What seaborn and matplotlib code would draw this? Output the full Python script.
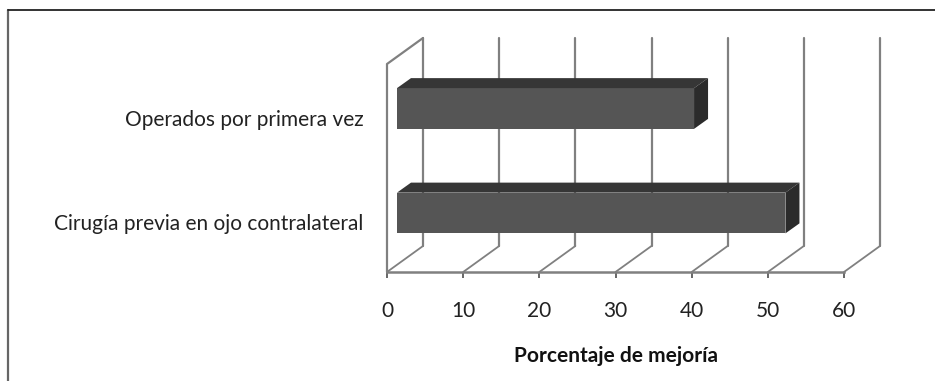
import matplotlib
matplotlib.use("Agg")
import matplotlib.pyplot as plt
from matplotlib.lines import Line2D
from matplotlib.patches import Polygon
from matplotlib.transforms import Affine2D
import pandas as pd
import seaborn as sns

categories = ["Operados por primera vez", "Cirugía previa en ojo contralateral"]
values = [39, 51]
x_ticks = [0, 10, 20, 30, 40, 50, 60]
x_label = "Porcentaje de mejoría"

W, H = 935, 381
LINE = "#808080"

sns.set_theme(style="white")
plt.rcParams["font.family"] = ["Lato", "DejaVu Sans"]

fig = plt.figure(figsize=(W / 100, H / 100), dpi=100, facecolor="white")


def axes_from_pixels(left, right, top, bottom):
    return fig.add_axes([left / W, 1 - bottom / H, (right - left) / W, (bottom - top) / H])


# Floor and walls of the pseudo-3D frame
frame = axes_from_pixels(387, 844, 64, 272)
frame.set_xlim(0, 60)
frame.set_ylim(0, 1)
frame.patch.set_alpha(0)
frame.set_yticks([])
frame.set_xticks(x_ticks)
frame.tick_params(axis="x", bottom=True, length=4, width=1.4, color="#666666", pad=17,
                  labelsize=15, labelcolor="#222222")
for side in ("top", "right", "left"):
    frame.spines[side].set_visible(False)
frame.spines["bottom"].set_color(LINE)
frame.spines["bottom"].set_linewidth(1.8)
frame.set_xlabel(x_label, fontsize=15, fontweight="bold", color="#111111", labelpad=18)

depth = Affine2D().translate(36, 26)
back = frame.transData + depth
for tick in x_ticks:
    frame.add_line(Line2D([tick, tick], [0, 1], color=LINE, lw=1.6, transform=back, clip_on=False))
    # Diagonal joining the floor tick to the foot of the back gridline
    x0, y0 = frame.transData.transform((tick, 0))
    x1, y1 = back.transform((tick, 0))
    frame.add_line(Line2D([x0, x1], [y0, y1], color=LINE, lw=1.3, transform=None, clip_on=False))

x0, y0 = frame.transData.transform((0, 0))
x1, y1 = frame.transData.transform((0, 1))
x2, y2 = back.transform((0, 1))
frame.add_line(Line2D([x0, x1, x2], [y0, y1, y2], color=LINE, lw=1.6, transform=None, clip_on=False))

# Bars sit slightly in front of the back wall, so their axes are shifted
bars_ax = axes_from_pixels(397, 854, 56.25, 265.25)
bars_ax.patch.set_alpha(0)
data = pd.DataFrame({"grupo": categories, "mejoria": values})
sns.barplot(data=data, y="grupo", x="mejoria", orient="h", color="#555555", saturation=1,
            width=0.39, ax=bars_ax, zorder=5, edgecolor="none", linewidth=0)
bars_ax.set_xlim(0, 60)
bars_ax.set_xlabel("")
bars_ax.set_ylabel("")
bars_ax.set_xticks([])
sns.despine(ax=bars_ax, left=True, bottom=True)
bars_ax.tick_params(axis="y", left=False, pad=18, labelsize=15, labelcolor="#222222")
for label in bars_ax.get_yticklabels():
    label.set_transform(label.get_transform() + Affine2D().translate(0, -9.5))

# Top and end faces of each bar
DX, DY = 14, 10
for bar in list(bars_ax.patches):
    a = bars_ax.transData.transform((bar.get_x(), bar.get_y() + bar.get_height()))
    b = bars_ax.transData.transform((bar.get_x() + bar.get_width(), bar.get_y()))
    left, right = a[0], b[0]
    low, high = min(a[1], b[1]), max(a[1], b[1])
    bars_ax.add_patch(Polygon([(left, high), (right, high), (right + DX, high + DY), (left + DX, high + DY)],
                              closed=True, transform=None, facecolor="#363636", edgecolor="none", zorder=6, clip_on=False))
    bars_ax.add_patch(Polygon([(right, low), (right + DX, low + DY), (right + DX, high + DY), (right, high)],
                              closed=True, transform=None, facecolor="#2b2b2b", edgecolor="none", zorder=6, clip_on=False))

# Outer border of the chart area
fig.add_artist(Line2D([7.5 / W, 7.5 / W], [0, 1 - 10 / H], color="#666666", lw=1.6, transform=fig.transFigure))
fig.add_artist(Line2D([7.5 / W, 1], [1 - 10 / H, 1 - 10 / H], color="#222222", lw=1.3, transform=fig.transFigure))

fig.savefig("out.png", dpi=100, facecolor="white")
